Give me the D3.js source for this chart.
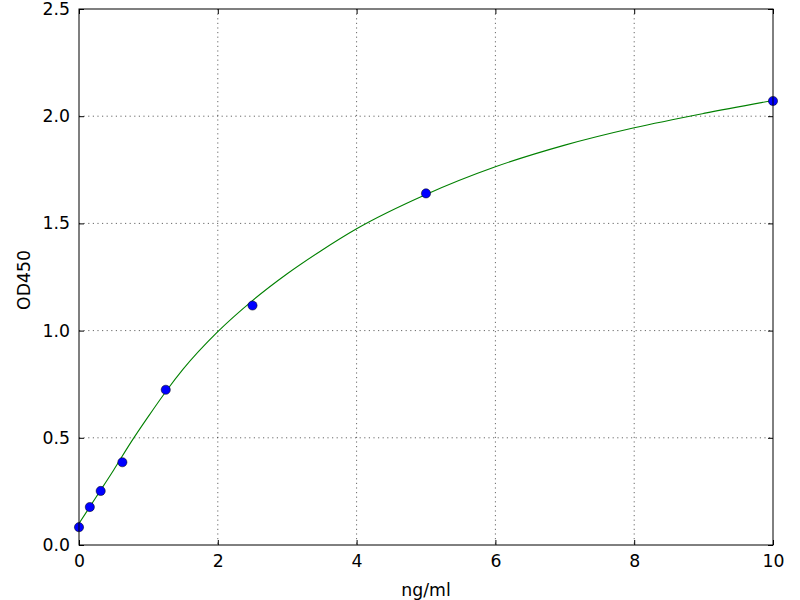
<!DOCTYPE html>
<html>
<head>
<meta charset="utf-8">
<script src="https://cdn.jsdelivr.net/npm/d3@7"></script>
<style>
  body { margin: 0; background: #fff; }
  svg text { font-family: "DejaVu Sans", sans-serif; fill: #000; }
</style>
</head>
<body>
<svg id="chart" width="800" height="600"></svg>
<script>
// measured standards
const concentrations = [0, 0.156, 0.3125, 0.625, 1.25, 2.5, 5, 10]
const odValues = [0.083, 0.177, 0.252, 0.386, 0.724, 1.117, 1.640, 2.071]

// fitted curve
const curveX = [0, 0.25, 0.5, 0.75, 1, 1.25, 1.5, 2, 2.5, 3, 3.5, 4, 5, 6, 7, 8, 9, 10]
const curveY = [0.10, 0.225, 0.35, 0.48, 0.60, 0.715, 0.82, 0.995, 1.14, 1.265, 1.375, 1.475, 1.635, 1.764, 1.865, 1.946, 2.013, 2.073]

const xTicks = [0, 2, 4, 6, 8, 10]
const yTicks = [0.0, 0.5, 1.0, 1.5, 2.0, 2.5]

let svg = d3.select("#chart")

let pLeft = 79, pRight = 773, pTop = 9, pBottom = 545
const fontSize = "17.3px"

let x = d3.scaleLinear().domain([0, 10]).range([pLeft, pRight])
let y = d3.scaleLinear().domain([0, 2.5]).range([pBottom, pTop])

// grid
let grid = svg.append("g")
grid.selectAll("line.gx")
    .data(xTicks.slice(1, -1))
    .enter().append("line")
    .attr("x1", d => x(d)).attr("x2", d => x(d))
    .attr("y1", pTop).attr("y2", pBottom)
    .attr("stroke", "#000").attr("stroke-width", 0.6)
    .attr("stroke-dasharray", "1.2,3.4")
grid.selectAll("line.gy")
    .data(yTicks.slice(1, -1))
    .enter().append("line")
    .attr("y1", d => y(d)).attr("y2", d => y(d))
    .attr("x1", pLeft).attr("x2", pRight)
    .attr("stroke", "#000").attr("stroke-width", 0.6)
    .attr("stroke-dasharray", "1.2,3.4")

// axes, ticks pointing inward on all four sides
function styleAxis(g) {
  g.select(".domain").remove()
  g.selectAll(".tick line").attr("stroke", "#000").attr("stroke-width", 1)
  g.selectAll(".tick text").attr("font-size", fontSize).attr("font-family", "DejaVu Sans")
}

svg.append("g")
    .attr("transform", `translate(0,${pBottom})`)
    .call(d3.axisBottom(x).tickValues(xTicks).tickFormat(d3.format("d"))
      .tickSizeInner(-5).tickSizeOuter(0).tickPadding(10))
    .call(styleAxis)
svg.append("g")
    .attr("transform", `translate(0,${pTop})`)
    .call(d3.axisTop(x).tickValues(xTicks).tickFormat("").tickSizeInner(-5).tickSizeOuter(0))
    .call(styleAxis)
svg.append("g")
    .attr("transform", `translate(${pLeft},0)`)
    .call(d3.axisLeft(y).tickValues(yTicks).tickFormat(d3.format(".1f"))
      .tickSizeInner(-5).tickSizeOuter(0).tickPadding(9))
    .call(styleAxis)
svg.append("g")
    .attr("transform", `translate(${pRight},0)`)
    .call(d3.axisRight(y).tickValues(yTicks).tickFormat("").tickSizeInner(-5).tickSizeOuter(0))
    .call(styleAxis)

// fitted curve
let line = d3.line()
    .x(d => x(d[0]))
    .y(d => y(d[1]))
    .curve(d3.curveMonotoneX)

svg.append("path")
    .datum(d3.zip(curveX, curveY))
    .attr("d", line)
    .attr("fill", "none")
    .attr("stroke", "#008000")
    .attr("stroke-width", 1.1)

// points
svg.append("g").selectAll("circle")
    .data(d3.zip(concentrations, odValues))
    .enter().append("circle")
    .attr("cx", d => x(d[0]))
    .attr("cy", d => y(d[1]))
    .attr("r", 4.6)
    .attr("fill", "#0000ff")
    .attr("stroke", "#000")
    .attr("stroke-width", 0.5)

// frame
svg.append("rect")
    .attr("x", pLeft).attr("y", pTop)
    .attr("width", pRight - pLeft).attr("height", pBottom - pTop)
    .attr("fill", "none").attr("stroke", "#000").attr("stroke-width", 1)

// labels
svg.append("text")
    .attr("x", (pLeft + pRight) / 2).attr("y", 596)
    .attr("text-anchor", "middle")
    .attr("font-size", fontSize)
    .text("ng/ml")

svg.append("text")
    .attr("transform", `translate(29.5,280) rotate(-90)`)
    .attr("text-anchor", "middle")
    .attr("font-size", fontSize)
    .text("OD450")
</script>
</body>
</html>
